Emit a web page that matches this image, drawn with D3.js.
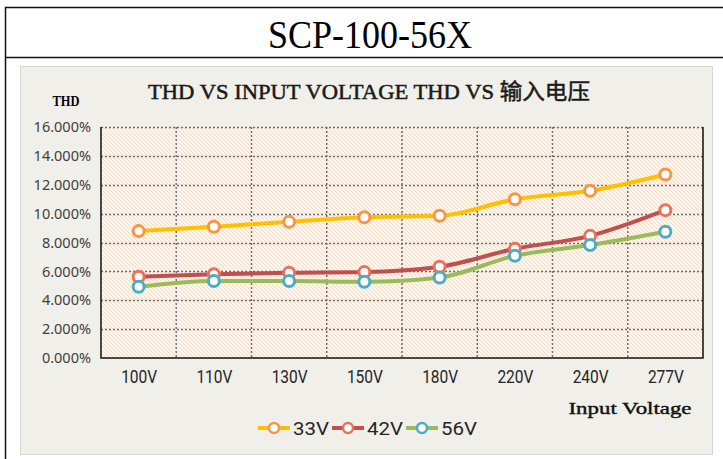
<!DOCTYPE html>
<html>
<head>
<meta charset="utf-8">
<script src="https://cdn.jsdelivr.net/npm/d3@7"></script>
<style>
  body { margin:0; background:#fff; }
  svg { display:block; }
</style>
</head>
<body>
<div id="chart"></div>
<script>
(function(){
var categories = ["100V","110V","130V","150V","180V","220V","240V","277V"];
var series33 = [8.79, 9.09, 9.43, 9.75, 9.85, 11.0, 11.58, 12.71];
var series42 = [5.63, 5.80, 5.90, 5.95, 6.32, 7.56, 8.46, 10.24];
var series56 = [4.93, 5.33, 5.33, 5.28, 5.58, 7.08, 7.82, 8.74];
var seriesNames = ["33V","42V","56V"];
var yTicks = [0,2,4,6,8,10,12,14,16];

var W = 723, H = 459;
var plot = {left:101, right:703, top:127, bottom:358};
var narrow = "Liberation Sans Narrow, Roboto, sans-serif";

var svg = d3.select("#chart").append("svg")
  .attr("width", W).attr("height", H);

var defs = svg.append("defs");
var pat = defs.append("pattern")
  .attr("id","hatch").attr("patternUnits","userSpaceOnUse")
  .attr("width",4).attr("height",4);
pat.append("rect").attr("width",4).attr("height",4).attr("fill","#fbf6f0");
pat.append("path")
  .attr("d","M0,0 L4,4 M-1,3 L1,5 M3,-1 L5,1")
  .attr("stroke","#f1dcc9").attr("stroke-width",1);

// outer table
svg.append("rect").attr("x",5.5).attr("y",7.5).attr("width",730).attr("height",470)
  .attr("fill","none").attr("stroke","#111").attr("stroke-width",1.5);
svg.append("line").attr("x1",5).attr("x2",723).attr("y1",57.5).attr("y2",57.5)
  .attr("stroke","#111").attr("stroke-width",1.5);
svg.append("text").attr("x",370).attr("y",48)
  .attr("text-anchor","middle")
  .attr("font-family","Liberation Serif, serif").attr("font-size",41)
  .attr("textLength",204).attr("lengthAdjust","spacingAndGlyphs")
  .text("SCP-100-56X");

// chart box
svg.append("rect").attr("x",20.5).attr("y",66.5).attr("width",692).attr("height",388)
  .attr("fill","#f0efe9").attr("stroke","#d8d8d4").attr("stroke-width",1);

var x = d3.scalePoint().domain(categories).range([plot.left, plot.right]).padding(0.5);
var y = d3.scaleLinear().domain([0,16]).range([plot.bottom, plot.top]);
var step = x.step();

svg.append("rect").attr("x",plot.left).attr("y",plot.top)
  .attr("width",plot.right-plot.left).attr("height",plot.bottom-plot.top)
  .attr("fill","url(#hatch)");

// grid
var grid = svg.append("g").attr("stroke","#6f6f6f").attr("stroke-width",1.5)
  .attr("stroke-dasharray","2,2");
grid.selectAll(".h").data(yTicks.filter(function(d){return d>0;})).enter().append("line")
  .attr("x1",plot.left).attr("x2",plot.right)
  .attr("y1",function(d){return Math.round(y(d))+0.5;})
  .attr("y2",function(d){return Math.round(y(d))+0.5;});
grid.selectAll(".v").data(categories.slice(1)).enter().append("line")
  .attr("x1",function(d){return x(d)-step/2;})
  .attr("x2",function(d){return x(d)-step/2;})
  .attr("y1",plot.top).attr("y2",plot.bottom);

// axes border
svg.append("path")
  .attr("d","M"+plot.left+","+plot.top+" V"+plot.bottom+" H"+plot.right+" V"+plot.top)
  .attr("fill","none").attr("stroke","#111").attr("stroke-width",1.5);

// y labels
var yAxis = d3.axisLeft(y).tickValues(yTicks).tickSize(0).tickPadding(10)
  .tickFormat(function(d){return d3.format(".3f")(d)+"%";});
var gy = svg.append("g").attr("transform","translate("+plot.left+",0)").call(yAxis);
gy.select(".domain").remove();
gy.selectAll("text").attr("font-family","Noto Sans, sans-serif").attr("font-size",14.5)
  .attr("fill","#404040");

// x labels
var xAxis = d3.axisBottom(x).tickSize(0).tickPadding(12);
var gx = svg.append("g").attr("transform","translate(0,"+plot.bottom+")").call(xAxis);
gx.select(".domain").remove();
gx.selectAll("text").attr("font-family",narrow)
  .attr("font-size",18).attr("fill","#262626")
  .attr("textLength",36).attr("lengthAdjust","spacingAndGlyphs");

// titles
svg.append("text").attr("x",369).attr("y",99).attr("text-anchor","middle")
  .attr("font-family","Liberation Serif, Noto Sans CJK SC, serif").attr("font-size",22)
  .attr("fill","#1a1a1a").attr("stroke","#1a1a1a").attr("stroke-width",0.5)
  .attr("textLength",442).attr("lengthAdjust","spacingAndGlyphs")
  .text("THD VS INPUT VOLTAGE THD VS 输入电压");
svg.append("text").attr("x",66).attr("y",106).attr("text-anchor","middle")
  .attr("font-family","Liberation Serif, serif").attr("font-size",14)
  .attr("font-weight","bold").attr("textLength",27).attr("lengthAdjust","spacingAndGlyphs")
  .text("THD");
svg.append("text").attr("x",630).attr("y",414).attr("text-anchor","middle")
  .attr("font-family","Liberation Serif, serif").attr("font-size",17)
  .attr("fill","#111").attr("stroke","#111").attr("stroke-width",0.4)
  .attr("textLength",123).attr("lengthAdjust","spacingAndGlyphs")
  .text("Input Voltage");

// series
var lineColors = ["#ffc000","#c0504d","#9bbb59"];
var markColors = ["#f79646","#e8735c","#4bacc6"];
var allData = [series33, series42, series56];
var line = d3.line()
  .x(function(d,i){return x(categories[i]);})
  .y(function(d){return y(d);})
  .curve(d3.curveMonotoneX);

allData.forEach(function(vals, k){
  svg.append("path").attr("d", line(vals))
    .attr("fill","none").attr("stroke",lineColors[k]).attr("stroke-width",4)
    .attr("stroke-linecap","round");
});
allData.forEach(function(vals, k){
  svg.selectAll(".m"+k).data(vals).enter().append("circle")
    .attr("cx",function(d,i){return x(categories[i]);})
    .attr("cy",function(d){return y(d);})
    .attr("r",5.5).attr("fill","#fff")
    .attr("stroke",markColors[k]).attr("stroke-width",3);
});

// legend
var legX = [258, 332, 406];
var leg = svg.selectAll(".leg").data(seriesNames).enter().append("g")
  .attr("transform",function(d,i){return "translate("+legX[i]+",428)";});
leg.append("line").attr("x1",0).attr("x2",32).attr("y1",0).attr("y2",0)
  .attr("stroke",function(d,i){return lineColors[i];}).attr("stroke-width",4);
leg.append("circle").attr("cx",16).attr("cy",0).attr("r",5)
  .attr("fill","#fff").attr("stroke",function(d,i){return markColors[i];}).attr("stroke-width",2.5);
leg.append("text").attr("x",35).attr("y",6.5)
  .attr("font-family",narrow)
  .attr("font-size",18).attr("fill","#262626")
  .attr("textLength",36).attr("lengthAdjust","spacingAndGlyphs")
  .text(function(d){return d;});
})();
</script>
</body>
</html>
